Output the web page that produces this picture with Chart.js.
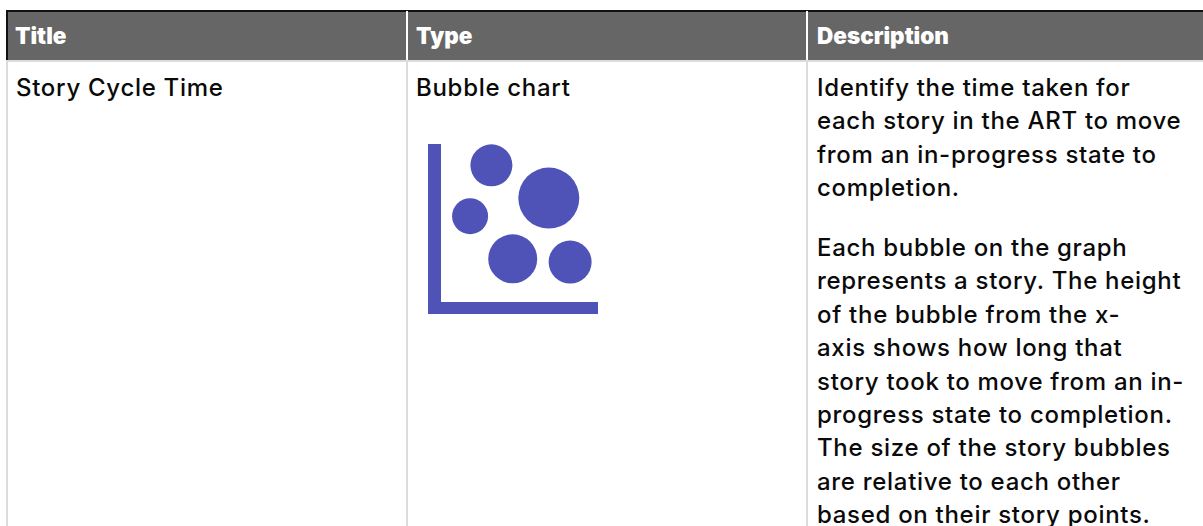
<!DOCTYPE html>
<html><head><meta charset="utf-8">
<script src="https://cdn.jsdelivr.net/npm/chart.js@4"></script>
<style>
html,body{margin:0;padding:0;background:#fff;overflow:hidden;width:1203px;height:526px}
body{position:relative;font-family:Inter,"Noto Sans",sans-serif;color:#0a0a0a}
.abs{position:absolute}
#head{left:6px;top:10px;width:1197px;height:50px;background:#666;border-top:2px solid #111;border-left:2px solid #111;box-sizing:border-box}
.hl{top:10px;height:50px;color:#fff;font:900 22.5px/51px Inter,sans-serif}
.hdiv{top:11px;height:49px;width:2px;background:#fff}
.bdiv{top:60px;height:466px;width:2px;background:#dcdcdc}
#hb{left:6px;top:60px;width:1197px;height:2px;background:#dcdcdc}
.cell{font-size:24px;font-weight:500;line-height:33.4px;letter-spacing:.7px;white-space:nowrap}
#chartbox{left:428px;top:144px;width:170px;height:170px}
</style></head><body>
<div class="abs" id="head"></div>
<div class="abs hl" style="left:15px">Title</div>
<div class="abs hl" style="left:416px">Type</div>
<div class="abs hl" style="left:817px">Description</div>
<div class="abs hdiv" style="left:406px"></div>
<div class="abs hdiv" style="left:806px"></div>
<div class="abs" id="hb"></div>
<div class="abs bdiv" style="left:6px"></div>
<div class="abs bdiv" style="left:406px"></div>
<div class="abs bdiv" style="left:806px"></div>
<div class="abs cell" style="left:16px;top:71px">Story Cycle Time</div>
<div class="abs cell" style="left:416px;top:71px">Bubble chart</div>
<div class="abs cell" id="d1" style="left:817px;top:71px"></div>
<div class="abs cell" id="d2" style="left:817px;top:231px"></div>
<div class="abs" id="chartbox"><canvas id="c" width="170" height="170"></canvas></div>
<script>
const para1 = ["Identify the time taken for","each story in the ART to move","from an in-progress state to","completion."];
const para2 = ["Each bubble on the graph","represents a story. The height","of the bubble from the x-","axis shows how long that","story took to move from an in-","progress state to completion.","The size of the story bubbles","are relative to each other","based on their story points."];
document.getElementById('d1').innerHTML = para1.join('<br>');
document.getElementById('d2').innerHTML = para2.join('<br>');

const storyPosition = [3.5, 7.0, 2.2, 4.8, 8.3];
const cycleTime = [8.7, 6.7, 5.6, 3.0, 2.8];
const storyPoints = [21, 30.5, 18, 24.5, 21.5];

const points = storyPosition.map((x, i) => ({x, y: cycleTime[i], r: storyPoints[i]}));
const axisStyle = {
  display: true,
  grid: {display: false, drawTicks: false},
  ticks: {display: false},
  border: {display: true, color: '#4f53b8', width: 13}
};
new Chart(document.getElementById('c'), {
  type: 'bubble',
  data: {datasets: [{label: 'Stories', data: points, backgroundColor: '#4f53b8', borderWidth: 0, clip: false}]},
  options: {
    responsive: false,
    animation: false,
    layout: {autoPadding: false, padding: {left: 6, bottom: 6, right: 0, top: 0}},
    plugins: {legend: {display: false}, tooltip: {enabled: false}},
    scales: {
      x: {...axisStyle, type: 'linear', min: 0, max: 10},
      y: {...axisStyle, type: 'linear', min: 0, max: 10}
    }
  }
});
</script>
</body></html>
